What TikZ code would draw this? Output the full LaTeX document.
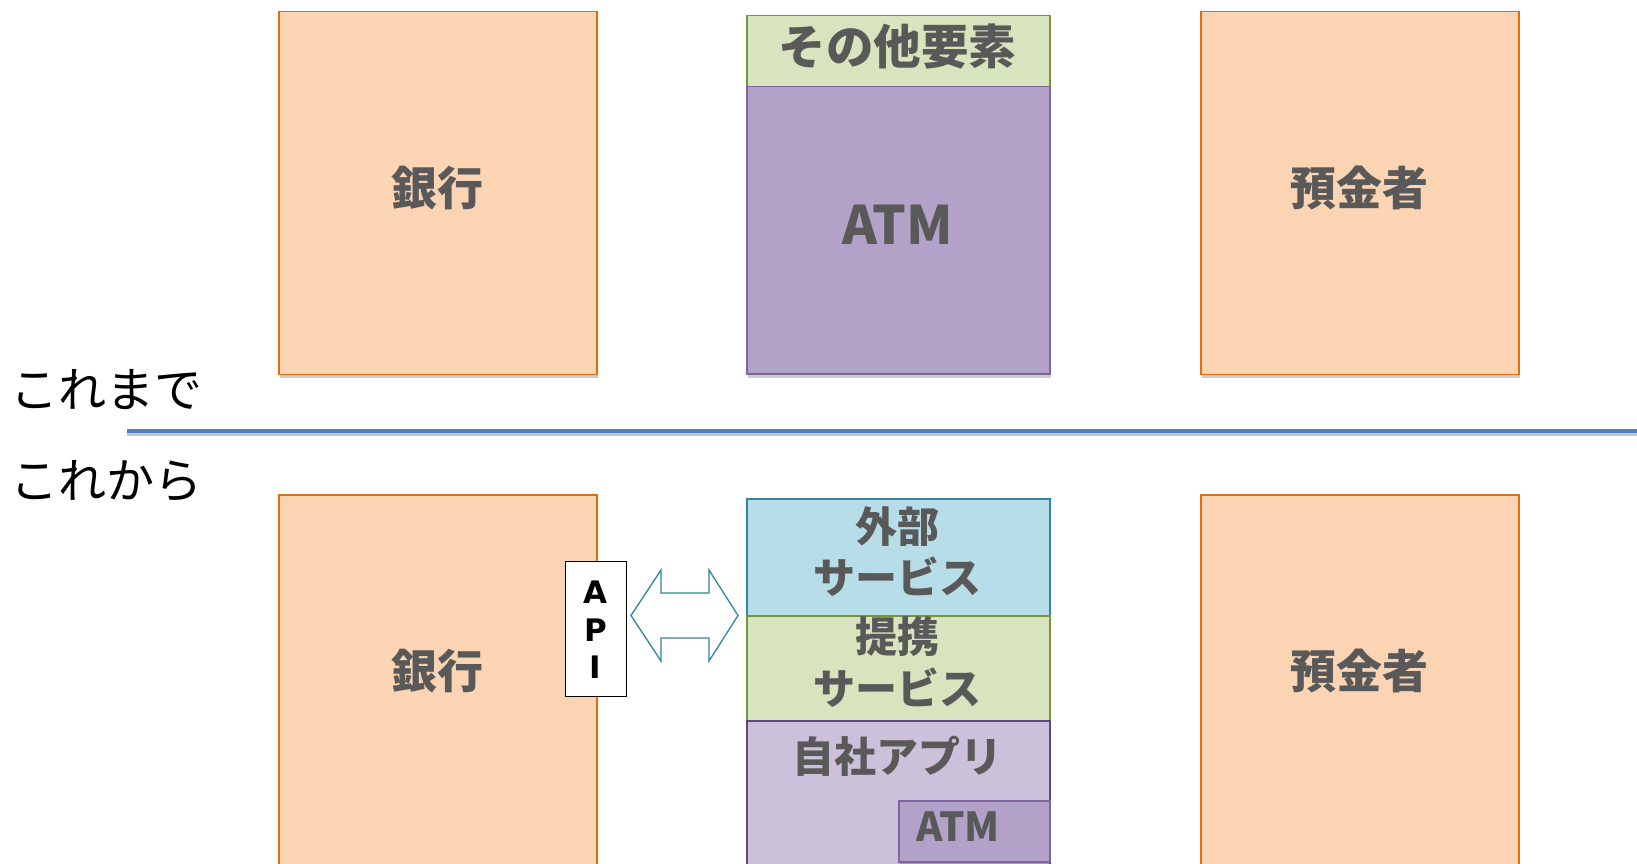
\documentclass[tikz,border=0pt]{standalone}
\usepackage{fontspec}
\newfontfamily\jp{Noto Sans CJK JP}
\newfontfamily\apifont{DejaVu Sans}
\usetikzlibrary{shadows}
\definecolor{orfill}{HTML}{FBD4B4}
\definecolor{ordraw}{HTML}{E46C0A}
\definecolor{grfill}{HTML}{D7E4BD}
\definecolor{grdraw}{HTML}{77933C}
\definecolor{pufill}{HTML}{B3A2C7}
\definecolor{pudraw}{HTML}{8064A2}
\definecolor{lpfill}{HTML}{CCC1DA}
\definecolor{lpdraw}{HTML}{5F497A}
\definecolor{blfill}{HTML}{B7DEE8}
\definecolor{bldraw}{HTML}{31859C}
\definecolor{txtgray}{HTML}{595959}
\definecolor{linecol}{HTML}{4F81BD}
\tikzset{
  shad/.style={drop shadow={shadow xshift=1pt, shadow yshift=-4pt, opacity=0.2, fill=black}},
  basebox/.style={rectangle, inner sep=0pt, anchor=north west, line width=1.6pt, shad},
  obox/.style={basebox, draw=ordraw, fill=orfill},
  gbox/.style={basebox, draw=grdraw, fill=grfill},
  pbox/.style={basebox, draw=pudraw, fill=pufill},
  big/.style={inner sep=0pt, text=txtgray, font=\jp\bfseries\fontsize{46}{50}\selectfont},
  svc/.style={inner sep=0pt, text=txtgray, font=\jp\bfseries\fontsize{42}{50}\selectfont},
  lbl/.style={font=\jp\fontsize{48}{52}\selectfont, text=black, anchor=west, inner sep=0pt},
}
\begin{document}
\begin{tikzpicture}[x=1pt,y=-1pt]
\clip (0,0) rectangle (1637,863);
\fill[white] (0,0) rectangle (1637,863);
% top row
\node[obox, minimum width=318pt, minimum height=363pt] (bank1) at (278,10.5) {};
\node[big] (bank1t) at (437,188) {銀行};
\node[gbox, minimum width=303pt, minimum height=71pt] (other) at (746,14.6) {};
\node[big, font=\jp\bfseries\fontsize{47.5}{50}\selectfont] (othert) at (897.5,47) {その他要素};
\node[pbox, minimum width=303pt, minimum height=287.5pt] (atm1) at (746,85.6) {};
\node[big, font=\jp\bfseries\fontsize{53}{58}\selectfont] (atm1t) at (897.5,225) {ATM};
\node[obox, minimum width=318pt, minimum height=363pt] (dep1) at (1200,10.5) {};
\node[big] (dep1t) at (1359,188) {預金者};
% labels and divider
\node[lbl] (before) at (10,390) {これまで};
\node[lbl] (after) at (10,481) {これから};
\coordinate (divL) at (127,431);
\coordinate (divR) at (1640,431);
\draw[black!22, line width=4pt] ([yshift=-3pt]divL) -- ([yshift=-3pt]divR);
\draw[linecol, line width=4pt] (divL) -- (divR);
% bottom row
\node[obox, minimum width=318pt, minimum height=375pt] (bank2) at (278,494) {};
\node[big] (bank2t) at (437,671) {銀行};
\node[obox, minimum width=318pt, minimum height=375pt] (dep2) at (1200,494) {};
\node[big] (dep2t) at (1359,671) {預金者};
\node[basebox, draw=bldraw, fill=blfill, minimum width=303pt, minimum height=117pt] (ext) at (746,498) {};
\node[svc] (ext1) at (897.5,527) {外部};
\node[svc] (ext2) at (897.5,577) {サービス};
\node[gbox, minimum width=303pt, minimum height=105pt] (part) at (746,615) {};
\node[svc] (part1) at (897.5,637) {提携};
\node[svc] (part2) at (897.5,688) {サービス};
\node[basebox, draw=lpdraw, fill=lpfill, minimum width=303pt, minimum height=150pt] (own) at (746,720) {};
\node[svc] (ownlbl) at (897.5,756) {自社アプリ};
\node[pbox, minimum width=151pt, minimum height=61pt] (atm2) at (898,800) {};
\node[svc, font=\jp\bfseries\fontsize{40}{44}\selectfont] (atm2lbl) at (958,827) {ATM};
% API
\node[rectangle, draw=black, fill=white, line width=1.3pt, inner sep=0pt, anchor=north west,
      minimum width=61pt, minimum height=135pt] (api) at (565,561) {};
\node[inner sep=0pt, align=center, font=\apifont\bfseries\fontsize{31}{37.5}\selectfont] (apit) at (595.5,630) {A\\P\\I};
% double arrow
\draw[bldraw, line width=1.3pt, fill=white, line join=miter]
  (631,615.5) -- (661,570) -- (661,593) -- (709,593) -- (709,570) -- (738,615.5)
  -- (709,661) -- (709,638) -- (661,638) -- (661,661) -- cycle;
\end{tikzpicture}
\end{document}
